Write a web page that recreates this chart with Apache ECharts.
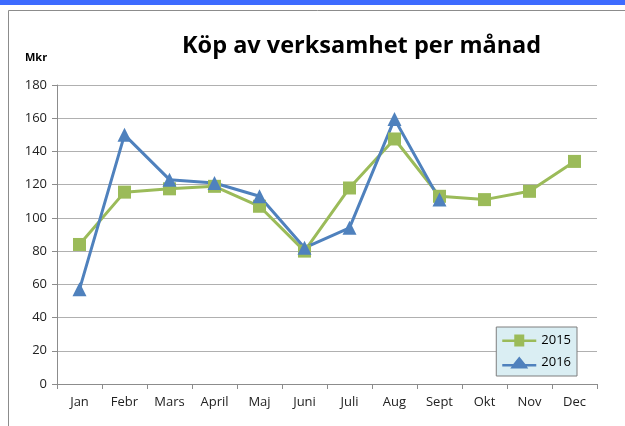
<!DOCTYPE html>
<html><head><meta charset="utf-8">
<script src="https://cdn.jsdelivr.net/npm/echarts@6/dist/echarts.min.js"></script>
<style>html,body{margin:0;padding:0;background:#fff}#c{width:625px;height:426px}</style>
</head><body><div id="c"></div>
<script>
const months = ['Jan','Febr','Mars','April','Maj','Juni','Juli','Aug','Sept','Okt','Nov','Dec'];
const v2015 = [84,115.5,117.5,119,107,80,118,147.5,113,111,116,134];
const v2016 = [57,150,123,121,113,82,94,159.5,111,null,null,null];
const yTicks = [0,20,40,60,80,100,120,140,160,180];

const chart = echarts.init(document.getElementById('c'), null, {renderer:'canvas'});
const font = '"Open Sans", "Liberation Sans", sans-serif';
chart.setOption({
  animation:false,
  backgroundColor:'#fff',
  graphic:[
    {type:'rect', shape:{x:0,y:0,width:625,height:5}, style:{fill:'#3d6bff'}},
    {type:'rect', shape:{x:8.5,y:10.5,width:640,height:430}, style:{fill:'none',stroke:'#8c8c8c',lineWidth:1}},
    {type:'text', left:25, top:52, style:{text:'Mkr', font:'bold 11px '+font, fill:'#000'}}
  ],
  title:{text:'Köp av verksamhet per månad', left:177, top:29,
    textStyle:{fontFamily:font, fontWeight:'bold', fontSize:23.5, color:'#000'}},
  grid:{left:57, right:28, top:85, bottom:42},
  legend:{right:48, top:327, orient:'vertical', backgroundColor:'#daeef3', borderColor:'#7f7f7f', borderWidth:1,
    padding:[7,6,7,6], itemGap:9, itemWidth:34, itemHeight:14,
    textStyle:{fontFamily:font, fontSize:13, color:'#000'},
    data:[{name:'2015', icon:'path://M0,6 L12,6 L12,1 L22,1 L22,6 L34,6 L34,8.5 L22,8.5 L22,13 L12,13 L12,8.5 L0,8.5 Z'},
          {name:'2016', icon:'path://M0,8.5 L11,8.5 L17,1 L23,8.5 L34,8.5 L34,11 L24.5,11 L26,13 L8,13 L9.5,11 L0,11 Z'}]},
  xAxis:{type:'category', data:months, boundaryGap:true,
    axisLine:{lineStyle:{color:'#8c8c8c'}},
    axisTick:{show:true, length:5, lineStyle:{color:'#8c8c8c'}},
    axisLabel:{fontFamily:font, fontSize:13, color:'#222', margin:12}},
  yAxis:{type:'value', min:0, max:180, interval:20,
    axisLine:{show:true, lineStyle:{color:'#8c8c8c'}},
    axisTick:{show:true, length:5, lineStyle:{color:'#8c8c8c'}},
    splitLine:{lineStyle:{color:'#b0b0b0'}},
    axisLabel:{fontFamily:font, fontSize:13, color:'#222', margin:10}},
  series:[
    {name:'2015', type:'line', data:v2015, symbol:'rect', symbolSize:13,
      itemStyle:{color:'#9bbb59'}, lineStyle:{color:'#9bbb59', width:3}},
    {name:'2016', type:'line', data:v2016, symbol:'triangle', symbolSize:14,
      itemStyle:{color:'#4f81bd'}, lineStyle:{color:'#4f81bd', width:3}}
  ]
});
</script></body></html>
